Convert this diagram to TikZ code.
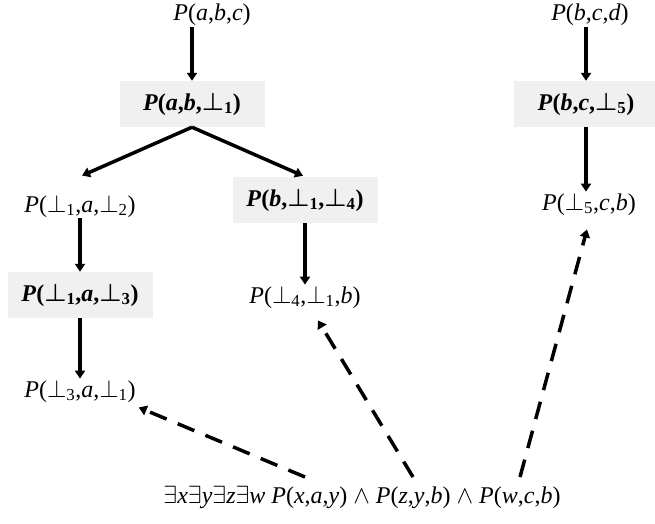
\documentclass[tikz,border=0pt]{standalone}
\usepackage{fontspec}
\setmainfont{Liberation Serif}
\usetikzlibrary{arrows.meta, calc}

\definecolor{boxgray}{RGB}{240,240,240}
\newcommand{\fb}[1]{$\perp$\textsubscript{#1}}
\newcommand{\fbb}[1]{{\boldmath$\perp$}\textsubscript{#1}}

\begin{document}
\begin{tikzpicture}[x=1pt, y=-1pt, font=\fontsize{24}{28}\selectfont, inner sep=1pt,
		chase/.style={fill=boxgray, minimum width=145pt, minimum height=46pt, font=\fontsize{24}{28}\selectfont\bfseries},
		arr/.style={-{Triangle[width=10pt,length=8pt]}, line width=3.5pt},
		darr/.style={-{Triangle[width=10pt,length=8pt]}, line width=3.5pt, dash pattern=on 18pt off 12pt}]
		\useasboundingbox (0,0) rectangle (655,523);

		% Atoms
		\node (abc) at (212,15) {\textit{P}(\textit{a},\textit{b},\textit{c})};
		\node (bcd) at (590,15) {\textit{P}(\textit{b},\textit{c},\textit{d})};
		\node[chase] (ab1) at (192,104) {\textit{P}(\textit{a},\textit{b},\fbb{1})};
		\node[chase] (bc5) at (586,104) {\textit{P}(\textit{b},\textit{c},\fbb{5})};
		\node (n1a2) at (80,206) {\textit{P}(\fb{1},\textit{a},\fb{2})};
		\node[chase] (b14) at (305,200) {\textit{P}(\textit{b},\fbb{1},\fbb{4})};
		\node (n5cb) at (589,204) {\textit{P}(\fb{5},\textit{c},\textit{b})};
		\node[chase] (n1a3) at (80,295) {\textit{P}(\fbb{1},\textit{a},\fbb{3})};
		\node (n41b) at (305,297) {\textit{P}(\fb{4},\fb{1},\textit{b})};
		\node (n3a1) at (80,391) {\textit{P}(\fb{3},\textit{a},\fb{1})};

		% Query
		\node (query) at (362,497) {$\exists$\textit{x}$\exists$\textit{y}$\exists$\textit{z}$\exists$\textit{w} \textit{P}(\textit{x},\textit{a},\textit{y}) $\wedge$ \textit{P}(\textit{z},\textit{y},\textit{b}) $\wedge$ \textit{P}(\textit{w},\textit{c},\textit{b})};
		\coordinate (q1) at (305,477);
		\coordinate (q2) at (413,477);
		\coordinate (q3) at (520,477);

		% Chase steps
		\draw[arr] (abc.south -| ab1.north) -- (ab1.north);
		\draw[arr] (bcd.south -| bc5.north) -- (bc5.north);
		\draw[arr] (ab1.south) -- ($(n1a2.north)+(2,-18)$);
		\draw[arr] (ab1.south) -- ($(b14.north)+(-2,-1)$);
		\draw[arr] (bc5.south) -- (bc5.south |- n5cb.north);
		\draw[arr] (n1a2) -- (n1a3);
		\draw[arr] (b14) -- (n41b);
		\draw[arr] (n1a3) -- (n3a1);

		% Matches
		\draw[darr] (q1) -- ($(n3a1.south east)+(2,4)$);
		\draw[darr] (q2) -- ($(n41b.south)+(13,11)$);
		\draw[darr] (q3) -- ($(n5cb.south)+(-2,13)$);
	\end{tikzpicture}
\end{document}
